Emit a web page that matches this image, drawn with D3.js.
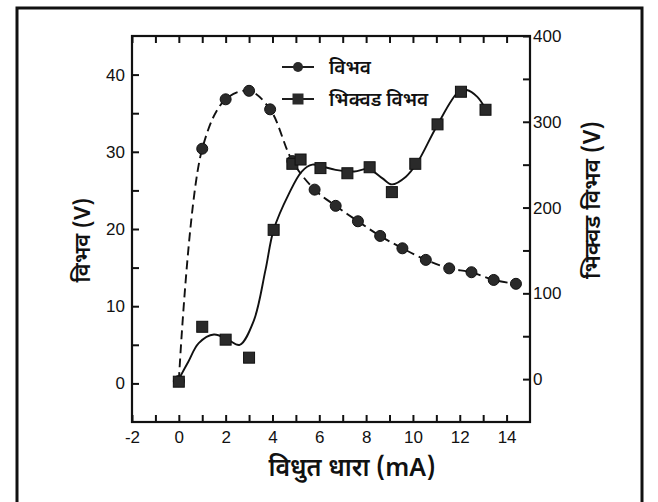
<!DOCTYPE html>
<html>
<head>
<meta charset="utf-8">
<script src="https://cdn.jsdelivr.net/npm/d3@7"></script>
<style>
  body { margin: 0; background: #fff; }
  svg { display: block; }
  .tick text { font-family: "Liberation Sans", Arial, sans-serif; font-size: 17px; fill: #111; }
  .hi { font-family: "Noto Sans Devanagari", "Lohit Devanagari", "Noto Sans", sans-serif; fill: #111; font-weight: 600; }
</style>
</head>
<body>
<div id="chart"></div>
<script>
// potential (left axis, dashed line, circles)
const potX = [0, 1, 2, 3, 3.9, 4.85, 5.8, 6.7, 7.65, 8.6, 9.55, 10.55, 11.55, 12.5, 13.45, 14.4];
const potY = [0.3, 30.4, 36.8, 37.9, 35.5, 28.8, 25.1, 23.0, 21.0, 19.1, 17.5, 16.0, 14.9, 14.4, 13.4, 12.9];

// breakdown potential (right axis, squares)
const brkX = [0, 1, 2, 3, 4.05, 4.85, 5.2, 6.05, 7.2, 8.15, 9.1, 10.1, 11.05, 12.05, 13.1];
const brkY = [-3, 61, 46, 25, 174, 251, 256, 246, 240, 247, 218, 251, 297, 335, 314];

// hand-drawn fit through the breakdown points (solid line)
const fitX = [0, 0.4, 0.85, 1.5, 2.1, 2.6, 3.2, 3.7, 4.05, 4.7, 5.25, 5.7, 6.1, 6.7, 7.5, 8.1, 8.7, 9.1, 9.7, 10.2, 11.0, 11.95, 12.3, 12.75, 13.1];
const fitY = [0, 20, 42, 52, 46, 40, 68, 127, 174, 216, 242, 250, 248, 244, 242, 245, 234, 227, 236, 253, 294, 335, 337, 329, 315];

const xTicks = [-2, -1, 0, 1, 2, 3, 4, 5, 6, 7, 8, 9, 10, 11, 12, 13, 14];
const yLeftTicks = [0, 5, 10, 15, 20, 25, 30, 35, 40];
const yRightTicks = [0, 50, 100, 150, 200, 250, 300, 350, 400];

const legendLabels = ["विभव", "भिक्वड विभव"];
const xTitle = "विधुत धारा (mA)";
const yLeftTitle = "विभव (V)";
const yRightTitle = "भिक्वड विभव (V)";

const W = 658, H = 502;
const svg = d3.select("#chart").append("svg").attr("width", W).attr("height", H);

// outer border of the scanned figure
svg.append("rect").attr("x", 17).attr("y", 8).attr("width", 625).attr("height", 500)
  .attr("fill", "none").attr("stroke", "#111").attr("stroke-width", 3);

const pLeft = 132, pRight = 530, pTop = 36, pBottom = 422;
const x = d3.scaleLinear().domain([-2, 15]).range([pLeft, pRight]);
const yL = d3.scaleLinear().domain([-5, 45]).range([pBottom, pTop]);
const yR = d3.scaleLinear().domain([-50, 400]).range([pBottom, pTop]);

// axes, ticks pointing inward
svg.append("g").attr("transform", `translate(0,${pBottom})`)
  .call(d3.axisBottom(x).tickValues(xTicks).tickSize(-7).tickSizeOuter(0).tickPadding(9)
    .tickFormat(d => d % 2 === 0 ? d : ""));
svg.append("g").attr("transform", `translate(0,${pTop})`)
  .call(d3.axisTop(x).tickValues(xTicks).tickSize(-7).tickSizeOuter(0).tickFormat(""));
svg.append("g").attr("transform", `translate(${pLeft},0)`)
  .call(d3.axisLeft(yL).tickValues(yLeftTicks).tickSize(-7).tickSizeOuter(0).tickPadding(7)
    .tickFormat(d => d % 10 === 0 ? d : ""));
svg.append("g").attr("transform", `translate(${pRight},0)`)
  .call(d3.axisRight(yR).tickValues(yRightTicks).tickSize(-7).tickSizeOuter(0).tickPadding(3)
    .tickFormat(d => d % 100 === 0 ? d : ""));

svg.selectAll(".domain").remove();
svg.selectAll(".tick line").attr("stroke", "#111").attr("stroke-width", 2);

svg.append("rect").attr("x", pLeft).attr("y", pTop).attr("width", pRight - pLeft).attr("height", pBottom - pTop)
  .attr("fill", "none").attr("stroke", "#111").attr("stroke-width", 2.2);

// dashed potential curve
const potPts = potX.map((v, i) => [v, potY[i]]);
svg.append("path")
  .attr("d", d3.line().x(d => x(d[0])).y(d => yL(d[1])).curve(d3.curveCatmullRom.alpha(0.5))(potPts))
  .attr("fill", "none").attr("stroke", "#111").attr("stroke-width", 1.9).attr("stroke-dasharray", "9,5");

// solid breakdown fit
const fitPts = fitX.map((v, i) => [v, fitY[i]]);
svg.append("path")
  .attr("d", d3.line().x(d => x(d[0])).y(d => yR(d[1])).curve(d3.curveCatmullRom.alpha(0.5))(fitPts))
  .attr("fill", "none").attr("stroke", "#111").attr("stroke-width", 1.9);

svg.selectAll("circle.pot").data(potPts).enter().append("circle")
  .attr("class", "pot")
  .attr("cx", d => x(d[0])).attr("cy", d => yL(d[1])).attr("r", 5.5)
  .attr("fill", "#2a2a2a").attr("stroke", "#111");

const s = 11;
svg.selectAll("rect.brk").data(brkX.map((v, i) => [v, brkY[i]])).enter().append("rect")
  .attr("class", "brk")
  .attr("x", d => x(d[0]) - s / 2).attr("y", d => yR(d[1]) - s / 2)
  .attr("width", s).attr("height", s)
  .attr("fill", "#2a2a2a").attr("stroke", "#111");

// legend
const legY = [67, 99];
legendLabels.forEach((name, i) => {
  const g = svg.append("g");
  g.append("line").attr("x1", 282).attr("x2", 314).attr("y1", legY[i]).attr("y2", legY[i])
    .attr("stroke", "#111").attr("stroke-width", 1.9);
  if (i === 0) g.append("circle").attr("cx", 298).attr("cy", legY[i]).attr("r", 5).attr("fill", "#2a2a2a");
  else g.append("rect").attr("x", 292.5).attr("y", legY[i] - 5.5).attr("width", 11).attr("height", 11).attr("fill", "#2a2a2a");
  g.append("text").attr("class", "hi").attr("x", 329).attr("y", legY[i] + 7)
    .attr("font-size", 19).text(name);
});

// axis titles
svg.append("text").attr("class", "hi").attr("x", 352).attr("y", 476)
  .attr("text-anchor", "middle").attr("font-size", 25).text(xTitle);
svg.append("text").attr("class", "hi")
  .attr("transform", "translate(90,240) rotate(-90)")
  .attr("text-anchor", "middle").attr("font-size", 22).text(yLeftTitle);
svg.append("text").attr("class", "hi")
  .attr("transform", "translate(600,200) rotate(-90)")
  .attr("text-anchor", "middle").attr("font-size", 23).text(yRightTitle);
</script>
</body>
</html>
